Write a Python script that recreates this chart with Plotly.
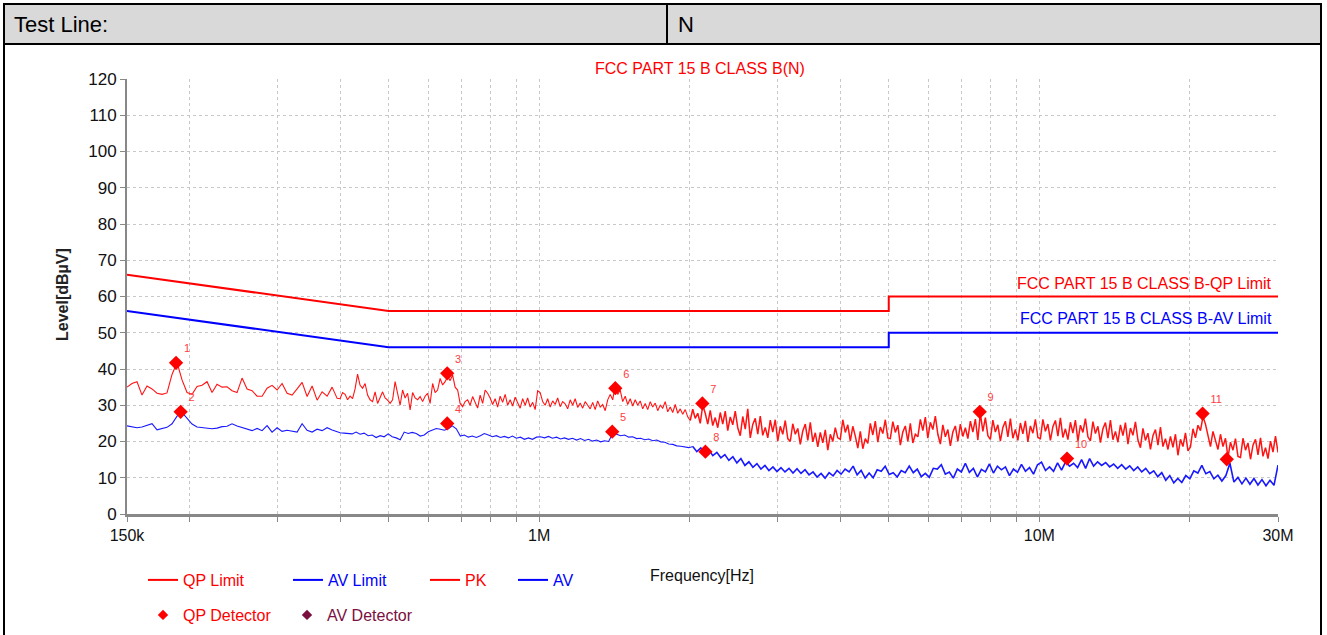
import numpy as np
import plotly.graph_objects as go

# ---------------- data ----------------
# sweep segment A: 150 kHz .. 395 kHz  (coarse steps)
SEG_A = (150e3, 394.6e3)
# sweep segment B: 400 kHz .. 30 MHz  (fine steps)
SEG_B = (400e3, 30e6)

PK_A = [35.0, 36.0, 36.5, 32.8, 35.3, 34.5, 33.3, 33.0, 33.4, 38.5, 41.8, 37.0, 33.5, 33.0, 35.2,
        35.5, 36.5, 33.5, 35.8, 35.0, 35.1, 34.0, 33.5, 37.5, 34.5, 34.0, 32.5, 32.5, 34.7, 35.5,
        34.2, 36.0, 33.3, 32.8, 34.5, 36.3, 32.4, 35.3, 31.4, 33.7, 32.5, 35.0, 31.9]

PK_B = [
    31.8, 33.5, 33.0, 31.5, 32.5, 31.8, 34.5, 38.6, 35.5, 34.7, 36.0, 32.8, 31.5, 31.0, 33.7, 30.5, 32.0, 33.7, 32.0, 31.4,
    30.5, 31.5, 36.5, 33.0, 30.0, 34.2, 32.0, 33.3, 28.7, 33.5, 32.0, 31.5, 32.4, 31.0, 32.5, 33.3, 30.5, 36.0, 33.5, 34.2,
    37.4, 35.6, 36.5, 37.9, 36.8, 38.3, 35.0, 34.2, 30.5, 29.6, 31.0, 31.5, 30.0, 32.4, 30.5, 29.2, 32.8, 30.5, 34.2, 33.3,
    32.0, 30.2, 31.8, 29.5, 32.5, 30.8, 33.0, 30.0, 31.5, 29.8, 32.2, 30.5, 29.2, 31.8, 30.0, 32.0, 29.5, 30.8, 28.8, 34.0,
    33.5, 31.0, 30.0, 31.8, 29.5, 31.2, 30.2, 32.0, 29.6, 31.0, 30.4, 29.0, 31.5, 30.0, 31.8, 29.4, 30.6, 29.2, 31.0, 30.0,
    29.0, 30.8, 28.8, 31.2, 29.5, 30.2, 28.5, 31.5, 33.0, 31.5, 35.5, 33.0, 34.2, 31.0, 32.5, 30.2, 31.8, 29.8, 31.5, 30.0,
    31.2, 29.0, 30.5, 28.8, 31.0, 29.5, 30.6, 28.5, 30.0, 29.2, 31.0, 28.2, 29.5, 28.0, 30.2, 27.8, 29.0, 27.5, 28.8, 26.8,
    25.8, 28.9, 26.4, 27.8, 25.0, 30.0, 27.8, 24.8, 28.6, 24.4, 26.6, 23.8, 28.0, 24.8, 28.4, 23.0, 26.8, 24.6, 28.4, 23.8,
    21.6, 26.9, 23.4, 29.0, 21.0, 24.7, 26.4, 22.0, 27.0, 21.7, 23.9, 21.0, 25.9, 22.6, 26.0, 20.1, 24.2, 22.0, 25.8, 20.8,
    20.0, 24.9, 22.0, 23.6, 19.2, 22.9, 24.8, 20.3, 25.3, 19.9, 22.4, 18.5, 22.5, 19.6, 23.2, 17.6, 22.0, 20.0, 23.8, 21.0,
    20.6, 26.0, 22.5, 24.6, 20.1, 24.2, 21.5, 18.2, 22.8, 18.0, 20.8, 19.5, 25.0, 21.8, 25.6, 19.8, 24.0, 22.2, 26.0, 21.0,
    20.8, 25.5, 22.5, 24.5, 19.0, 22.6, 24.3, 20.0, 25.0, 19.6, 22.0, 21.3, 26.1, 23.0, 26.7, 20.9, 25.3, 23.3, 27.0, 22.0,
    19.3, 24.6, 21.3, 23.3, 18.8, 22.6, 24.3, 20.0, 24.8, 21.4, 23.8, 20.8, 25.6, 22.6, 26.2, 20.4, 27.8, 22.8, 26.6, 21.6,
    20.6, 25.9, 22.6, 24.6, 20.1, 23.9, 25.6, 21.3, 26.3, 20.9, 23.3, 20.3, 25.1, 22.1, 25.7, 19.9, 24.3, 22.3, 26.1, 21.1,
    20.8, 26.1, 22.8, 24.8, 20.3, 24.1, 25.8, 21.5, 26.5, 21.1, 23.5, 20.5, 25.3, 22.3, 25.9, 20.1, 24.5, 22.5, 26.3, 21.3,
    20.2, 25.5, 22.2, 24.2, 19.7, 23.5, 25.2, 20.9, 25.9, 20.5, 22.8, 19.8, 24.6, 21.6, 25.2, 19.3, 23.7, 21.7, 25.4, 20.4,
    18.3, 23.6, 20.3, 22.3, 17.8, 21.6, 23.3, 19.0, 24.0, 18.6, 20.8, 17.8, 21.4, 18.4, 22.0, 16.2, 20.6, 18.6, 22.4, 17.4,
    18.5, 23.5, 21.0, 24.5, 23.0, 26.8, 24.8, 22.0, 18.6, 22.8, 20.2, 17.8, 22.0, 18.6, 20.9, 15.6, 19.8, 17.6, 20.8, 15.9,
    15.6, 20.9, 17.6, 19.6, 15.1, 19.0, 20.6, 16.3, 21.0, 15.9, 18.3, 15.3, 20.1, 17.1, 21.5, 17.0,
]

AV_A = [24.3, 24.0, 23.8, 24.0, 24.5, 24.9, 23.2, 23.6, 23.9, 24.9, 27.0, 28.0, 26.5, 24.8, 24.0,
        23.8, 23.6, 23.5, 23.7, 24.1, 24.2, 24.9, 24.3, 23.9, 23.4, 23.0, 23.6, 23.0, 24.4, 22.6,
        23.8, 22.8, 23.1, 22.9, 22.6, 24.9, 23.1, 22.6, 23.4, 23.0, 23.8, 23.2, 22.6]

AV_B = [
    22.4, 22.3, 22.2, 22.1, 22.6, 22.0, 22.3, 21.6, 21.8, 21.1, 21.6, 21.3, 22.1, 21.3, 21.0, 20.5, 22.6, 22.2, 22.5, 22.2, 21.5, 21.8, 22.7, 23.2, 23.6,
    23.4, 23.1, 23.5, 24.3, 23.5, 21.5, 21.8, 21.2, 21.5, 21.1, 21.6, 22.2, 21.8, 21.3, 21.6, 21.1, 21.4, 21.0, 21.5, 20.9, 21.2, 20.6, 21.0, 20.6, 21.2,
    21.3, 21.0, 21.4, 20.9, 21.2, 20.7, 21.0, 20.6, 20.9, 20.4, 20.8, 20.3, 20.6, 20.1, 20.4, 19.9, 20.2, 20.0, 22.2, 22.0, 21.6, 21.8, 21.2, 21.3, 20.8,
    20.9, 20.5, 20.7, 20.2, 20.4, 19.9, 19.8, 19.3, 19.2, 18.8, 18.7, 18.4, 18.3, 18.6, 17.2, 18.2, 16.7, 17.7, 16.1, 17.0, 15.5, 16.4, 14.8, 15.8, 14.1,
    15.3, 13.4, 14.4, 12.9, 13.9, 12.4, 13.4, 12.0, 13.0, 11.7, 12.8, 11.6, 12.6, 11.3, 12.5, 11.2, 12.2, 10.8, 11.6, 10.2, 11.2, 9.9, 11.4, 10.5, 12.0,
    11.0, 12.4, 11.6, 13.2, 10.8, 12.0, 9.9, 11.3, 10.0, 12.2, 11.8, 13.2, 10.9, 11.4, 10.2, 12.0, 11.4, 13.2, 11.4, 12.4, 10.3, 11.2, 10.1, 12.6, 12.4,
    13.6, 11.0, 11.6, 9.9, 12.4, 11.6, 14.0, 11.5, 12.6, 10.2, 12.3, 11.6, 13.8, 11.3, 13.2, 12.2, 13.0, 10.6, 12.4, 11.5, 13.7, 11.8, 12.8, 11.0, 13.6,
    14.3, 12.0, 13.0, 11.8, 14.1, 12.1, 14.4, 13.2, 14.0, 12.8, 15.0, 12.6, 15.3, 13.2, 14.4, 13.4, 14.2, 13.0, 13.8, 12.6, 13.6, 12.4, 13.3, 12.0, 13.0,
    11.6, 12.6, 11.1, 11.9, 10.3, 11.4, 9.3, 10.6, 8.6, 9.8, 8.7, 10.6, 9.7, 11.9, 11.3, 13.4, 11.1, 11.7, 9.7, 10.7, 9.1, 10.6, 14.0, 8.8, 10.1,
    8.3, 9.9, 8.2, 9.8, 8.0, 9.5, 7.8, 9.3, 7.9, 13.5,
]

# limit lines (frequency in Hz, level in dBuV)
LIMIT_FREQ = [150e3, 500e3, 5e6, 5e6, 30e6]
QP_LIMIT = [66, 56, 56, 60, 60]
AV_LIMIT = [56, 46, 46, 50, 50]

# detector points
MARK_FREQ = [0.188e6, 0.192e6, 0.655e6, 0.655e6, 1.40e6, 1.42e6, 2.12e6, 2.15e6, 7.60e6, 11.36e6, 21.2e6, 23.7e6]
MARK_LEVEL = [41.7, 28.2, 38.8, 25.0, 22.7, 34.7, 30.5, 17.2, 28.2, 15.3, 27.7, 15.1]
MARK_LABEL = ["1", "2", "3", "4", "5", "6", "7", "8", "9", "10", "11", ""]

X_TICKS = [150e3, 2e5, 3e5, 4e5, 5e5, 6e5, 7e5, 8e5, 9e5,
           1e6, 2e6, 3e6, 4e6, 5e6, 6e6, 7e6, 8e6, 9e6, 1e7, 2e7, 3e7]
X_TICKTEXT = ["150k", "", "", "", "", "", "", "", "",
              "1M", "", "", "", "", "", "", "", "", "10M", "", "30M"]

# the dense part of the sweep is drawn slightly heavier, as in the reference
DENSE_FROM_HZ = 2.0e6

# ---------------- sweep grids ----------------
f_pk = np.concatenate([np.geomspace(*SEG_A, len(PK_A)), np.geomspace(*SEG_B, len(PK_B))])
y_pk = np.array(PK_A + PK_B)
f_av = np.concatenate([np.geomspace(*SEG_A, len(AV_A)), np.geomspace(*SEG_B, len(AV_B))])
y_av = np.array(AV_A + AV_B)

k_pk = int(np.searchsorted(f_pk, DENSE_FROM_HZ))
k_av = int(np.searchsorted(f_av, DENSE_FROM_HZ))

# ---------------- layout geometry ----------------
W, H = 1327, 635
ML, MR, MT, MB = 127, 49, 79, 121
PW, PH = W - ML - MR, H - MT - MB


def px(x):
    return (x - ML) / PW


def py(y):
    return (H - MB - y) / PH


FONT = "Liberation Sans, Arial, sans-serif"
RED = "#ff0000"
BLUE = "#0000ff"
MAROON = "#7b1040"
PK_COL = "rgb(255,20,20)"
AV_COL = "rgb(25,25,255)"

fig = go.Figure()

fig.add_trace(go.Scatter(x=LIMIT_FREQ, y=QP_LIMIT, mode="lines", name="QP Limit",
                         line=dict(color=RED, width=2), legend="legend"))
fig.add_trace(go.Scatter(x=LIMIT_FREQ, y=AV_LIMIT, mode="lines", name="AV Limit",
                         line=dict(color=BLUE, width=2), legend="legend2"))
fig.add_trace(go.Scatter(x=f_pk[:k_pk + 1], y=y_pk[:k_pk + 1], mode="lines", name="PK",
                         legendgroup="pk", showlegend=False, line=dict(color=PK_COL, width=1.1)))
fig.add_trace(go.Scatter(x=f_pk[k_pk:], y=y_pk[k_pk:], mode="lines", name="PK",
                         legendgroup="pk", showlegend=False, line=dict(color=PK_COL, width=1.5)))
fig.add_trace(go.Scatter(x=f_av[:k_av + 1], y=y_av[:k_av + 1], mode="lines", name="AV",
                         legendgroup="av", showlegend=False, line=dict(color=AV_COL, width=1.1)))
fig.add_trace(go.Scatter(x=f_av[k_av:], y=y_av[k_av:], mode="lines", name="AV",
                         legendgroup="av", showlegend=False, line=dict(color=AV_COL, width=1.6)))
fig.add_trace(go.Scatter(x=MARK_FREQ, y=MARK_LEVEL, mode="markers+text", name="QP Detector",
                         text=MARK_LABEL, textposition="top right", showlegend=False,
                         textfont=dict(family=FONT, size=11, color="#ff4040"),
                         marker=dict(symbol="diamond", size=11, color=RED), legendgroup="qp"))
# legend-only entries (legend samples drawn like the reference legend)
fig.add_trace(go.Scatter(x=[None], y=[None], mode="lines", name="PK", legendgroup="pk",
                         line=dict(color=RED, width=2), legend="legend3"))
fig.add_trace(go.Scatter(x=[None], y=[None], mode="lines", name="AV", legendgroup="av",
                         line=dict(color=BLUE, width=2), legend="legend4"))
fig.add_trace(go.Scatter(x=[None], y=[None], mode="markers", name="QP Detector", legendgroup="qp",
                         marker=dict(symbol="diamond", size=8, color=RED), legend="legend5"))
fig.add_trace(go.Scatter(x=[None], y=[None], mode="markers", name="AV Detector",
                         marker=dict(symbol="diamond", size=8, color=MAROON), legend="legend6"))


def leg(xpix, ypix, color):
    return dict(x=px(xpix), y=py(ypix), xanchor="left", yanchor="middle",
                orientation="h", bgcolor="rgba(0,0,0,0)", borderwidth=0,
                font=dict(family=FONT, size=16, color=color))


annotations = [
    dict(text="FCC PART 15 B CLASS B(N)", x=px(700), y=py(68), xref="paper", yref="paper",
         showarrow=False, font=dict(family=FONT, size=16, color=RED), xanchor="center", yanchor="middle"),
    dict(text="FCC PART 15 B CLASS B-QP Limit", x=px(1274), y=63.7, xref="paper", yref="y",
         showarrow=False, font=dict(family=FONT, size=16, color=RED), xanchor="right", yanchor="middle"),
    dict(text="FCC PART 15 B CLASS B-AV Limit", x=px(1274), y=53.8, xref="paper", yref="y",
         showarrow=False, font=dict(family=FONT, size=16, color=BLUE), xanchor="right", yanchor="middle"),
    dict(text="<b>Level[dBµV]</b>", x=px(62), y=py(295), xref="paper", yref="paper", textangle=-90,
         showarrow=False, font=dict(family=FONT, size=16, color="#222"), xanchor="center", yanchor="middle"),
    dict(text="Frequency[Hz]", x=px(702), y=py(575), xref="paper", yref="paper",
         showarrow=False, font=dict(family=FONT, size=16, color="#111"), xanchor="center", yanchor="middle"),
    dict(text="Test Line:", x=px(12), y=py(24), xref="paper", yref="paper",
         showarrow=False, font=dict(family=FONT, size=22, color="#000"), xanchor="left", yanchor="middle"),
    dict(text="N", x=px(676), y=py(24), xref="paper", yref="paper",
         showarrow=False, font=dict(family=FONT, size=22, color="#000"), xanchor="left", yanchor="middle"),
]

shapes = [
    dict(type="rect", xref="paper", yref="paper", x0=px(4), x1=px(1321), y0=py(44), y1=py(4),
         fillcolor="#d9d9d9", line=dict(color="#000", width=2), layer="below"),
    dict(type="line", xref="paper", yref="paper", x0=px(667), x1=px(667), y0=py(44), y1=py(4),
         line=dict(color="#000", width=2)),
    dict(type="line", xref="paper", yref="paper", x0=px(4), x1=px(4), y0=py(44), y1=py(640),
         line=dict(color="#000", width=2)),
    dict(type="line", xref="paper", yref="paper", x0=px(1321), x1=px(1321), y0=py(44), y1=py(640),
         line=dict(color="#000", width=2)),
]

fig.update_layout(
    width=W, height=H,
    margin=dict(l=ML, r=MR, t=MT, b=MB, autoexpand=False),
    paper_bgcolor="white", plot_bgcolor="white",
    font=dict(family=FONT, size=16, color="#222"),
    showlegend=True,
    legend=leg(143, 580, RED),
    legend2=leg(288, 580, BLUE),
    legend3=leg(425, 580, RED),
    legend4=leg(513, 580, BLUE),
    legend5=leg(143, 615, RED),
    legend6=leg(287, 615, MAROON),
    annotations=annotations,
    shapes=shapes,
    xaxis=dict(type="log", range=[np.log10(150e3), np.log10(30e6)],
               tickvals=X_TICKS, ticktext=X_TICKTEXT,
               showline=True, linecolor="#888", linewidth=3,
               ticks="outside", ticklen=5, tickcolor="#888",
               showgrid=True, gridcolor="#c8c8c8", griddash="dot", gridwidth=1,
               zeroline=False, tickfont=dict(family=FONT, size=16, color="#111")),
    yaxis=dict(range=[0, 120], dtick=10, tick0=0,
               showline=True, linecolor="#888", linewidth=2,
               ticks="outside", ticklen=5, tickcolor="#888",
               showgrid=True, gridcolor="#c8c8c8", griddash="dot", gridwidth=1,
               zeroline=False, tickfont=dict(family=FONT, size=17, color="#111")),
)

fig.write_html("out.html", config={"displayModeBar": False},
               post_script="document.body.style.margin='0';document.body.style.overflow='hidden';")
